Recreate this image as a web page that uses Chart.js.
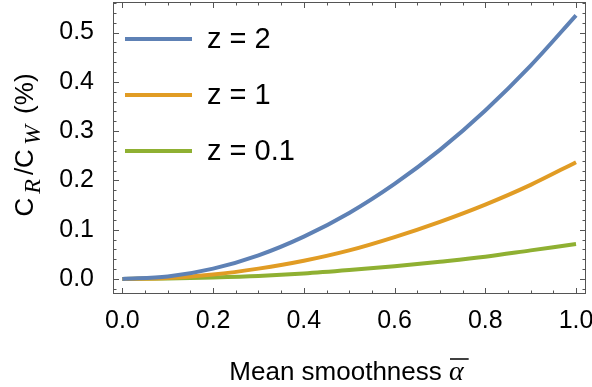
<!DOCTYPE html>
<html>
<head>
<meta charset="utf-8">
<script src="https://cdn.jsdelivr.net/npm/chart.js@4.4.1/dist/chart.umd.min.js"></script>
<style>
  html, body { margin: 0; padding: 0; background: #fff; }
</style>
</head>
<body>
<canvas id="ratioChart" width="592" height="387"></canvas>
<script>
// values
const alpha = [0, 0.1, 0.2, 0.3, 0.4, 0.5, 0.6, 0.7, 0.8, 0.9, 1.0];
const ratioZ2 = [0, 0.005, 0.021, 0.048, 0.086, 0.134, 0.193, 0.262, 0.342, 0.433, 0.535];
const ratioZ1 = [0, 0.002, 0.009, 0.021, 0.037, 0.058, 0.085, 0.116, 0.151, 0.191, 0.237];
const ratioZ01 = [0, 0.001, 0.003, 0.006, 0.011, 0.018, 0.026, 0.035, 0.045, 0.058, 0.071];
const seriesLabels = ["z = 2", "z = 1", "z = 0.1"];
const seriesColors = ["#5E81B5", "#E19C24", "#8FB032"];
const xTicks = [0, 0.2, 0.4, 0.6, 0.8, 1.0];
const yTicks = [0, 0.1, 0.2, 0.3, 0.4, 0.5];

const SANS = '"Liberation Sans", Arial, sans-serif';
const SERIF = '"Liberation Serif", "Times New Roman", serif';

function toPoints(ys) {
  return alpha.map((a, i) => ({ x: a, y: ys[i] }));
}

// Mathematica style frame with inward ticks on all four sides
const frameTicks = {
  id: "frameTicks",
  afterDatasetsDraw(chart) {
    const { ctx, chartArea } = chart;
    const xs = chart.scales.x;
    const ys = chart.scales.y;
    ctx.save();
    ctx.strokeStyle = "#555";
    ctx.lineWidth = 1;
    ctx.strokeRect(chartArea.left + 0.5, chartArea.top + 0.5,
      chartArea.right - chartArea.left - 1, chartArea.bottom - chartArea.top - 1);

    ctx.beginPath();
    for (let i = 0; i <= 20; i++) {
      const v = i * 0.05;
      const len = i % 4 === 0 ? 6 : 3.5;
      const px = Math.round(xs.getPixelForValue(v)) + 0.5;
      ctx.moveTo(px, chartArea.bottom);
      ctx.lineTo(px, chartArea.bottom - len);
      ctx.moveTo(px, chartArea.top);
      ctx.lineTo(px, chartArea.top + len);
    }
    for (let i = -1; i <= 28; i++) {
      const v = i * 0.02;
      if (v < ys.min || v > ys.max) continue;
      const len = i % 5 === 0 ? 6 : 3.5;
      const py = Math.round(ys.getPixelForValue(v)) + 0.5;
      ctx.moveTo(chartArea.left, py);
      ctx.lineTo(chartArea.left + len, py);
      ctx.moveTo(chartArea.right, py);
      ctx.lineTo(chartArea.right - len, py);
    }
    ctx.stroke();
    ctx.restore();
  }
};

const insideLegend = {
  id: "insideLegend",
  afterDatasetsDraw(chart) {
    const { ctx, chartArea } = chart;
    ctx.save();
    ctx.font = "29px " + SANS;
    ctx.textBaseline = "middle";
    ctx.fillStyle = "#000";
    chart.data.datasets.forEach((ds, i) => {
      const y = chartArea.top + 37 + i * 56;
      const x0 = chartArea.left + 12;
      ctx.strokeStyle = ds.borderColor;
      ctx.lineWidth = 4;
      ctx.beginPath();
      ctx.moveTo(x0, y);
      ctx.lineTo(x0 + 67, y);
      ctx.stroke();
      ctx.fillText(ds.label, x0 + 82, y + 1);
    });
    ctx.restore();
  }
};

const axisTitles = {
  id: "axisTitles",
  afterDraw(chart) {
    const { ctx, chartArea } = chart;
    ctx.save();
    ctx.fillStyle = "#000";
    ctx.textBaseline = "alphabetic";

    // x title: Mean smoothness alpha-bar
    const mainTxt = "Mean smoothness ";
    ctx.font = "26px " + SANS;
    const w1 = ctx.measureText(mainTxt).width;
    ctx.font = "italic 28px " + SERIF;
    const wa = ctx.measureText("\u03B1").width;
    let x = (chartArea.left + chartArea.right) / 2 - (w1 + wa) / 2 - 3;
    const base = 380;
    ctx.font = "26px " + SANS;
    ctx.fillText(mainTxt, x, base);
    ctx.font = "italic 28px " + SERIF;
    ctx.fillText("\u03B1", x + w1, base);
    ctx.strokeStyle = "#000";
    ctx.lineWidth = 1.5;
    ctx.beginPath();
    ctx.moveTo(x + w1 + 1, base - 21);
    ctx.lineTo(x + w1 + wa + 5, base - 21);
    ctx.stroke();

    // y title: C_R / C_W (%)
    const parts = [
      { t: "C", f: "26px " + SANS, dy: 0, gap: 2 },
      { t: "R", f: "italic 24px " + SERIF, dy: 7, gap: 6 },
      { t: "/C", f: "26px " + SANS, dy: 0, gap: 2 },
      { t: "W", f: "italic 24px " + SERIF, dy: 7, gap: 6 },
      { t: " (%)", f: "26px " + SANS, dy: 0, gap: 0 }
    ];
    let total = 0;
    parts.forEach(p => { ctx.font = p.f; p.w = ctx.measureText(p.t).width + p.gap; total += p.w; });
    ctx.translate(33, (chartArea.top + chartArea.bottom) / 2 - 3);
    ctx.rotate(-Math.PI / 2);
    let px = -total / 2;
    parts.forEach(p => {
      ctx.font = p.f;
      ctx.fillText(p.t, px + (p.dy ? 2 : 0), p.dy);
      px += p.w;
    });
    ctx.restore();
  }
};

const ctx = document.getElementById("ratioChart").getContext("2d");
const ratioChart = new Chart(ctx, {
  type: "line",
  data: {
    datasets: [ratioZ2, ratioZ1, ratioZ01].map((ys, i) => ({
      label: seriesLabels[i],
      data: toPoints(ys),
      borderColor: seriesColors[i],
      borderWidth: 4,
      pointRadius: 0,
      cubicInterpolationMode: "monotone",
      fill: false
    }))
  },
  options: {
    responsive: false,
    animation: false,
    layout: { padding: { top: 2, right: 6, left: 0, bottom: 0 } },
    plugins: {
      legend: { display: false },
      tooltip: { enabled: false }
    },
    scales: {
      x: {
        type: "linear",
        min: -0.0207,
        max: 1.022,
        grid: { display: false },
        border: { display: false },
        afterBuildTicks: axis => { axis.ticks = xTicks.map(v => ({ value: v })); },
        afterFit: scale => {
          scale.height = 93;
          scale.paddingLeft = 0;
          scale.paddingRight = 0;
        },
        ticks: {
          padding: 4,
          maxRotation: 0,
          color: "#000",
          font: { family: SANS, size: 25 },
          callback: v => v.toFixed(1)
        }
      },
      y: {
        min: -0.0305,
        max: 0.562,
        grid: { display: false },
        border: { display: false },
        afterBuildTicks: axis => { axis.ticks = yTicks.map(v => ({ value: v })); },
        afterFit: scale => {
          scale.width = 113;
          scale.paddingTop = 0;
          scale.paddingBottom = 0;
        },
        ticks: {
          padding: 11,
          color: "#000",
          font: { family: SANS, size: 25 },
          callback: v => v.toFixed(1)
        }
      }
    }
  },
  plugins: [frameTicks, insideLegend, axisTitles]
});
</script>
</body>
</html>
